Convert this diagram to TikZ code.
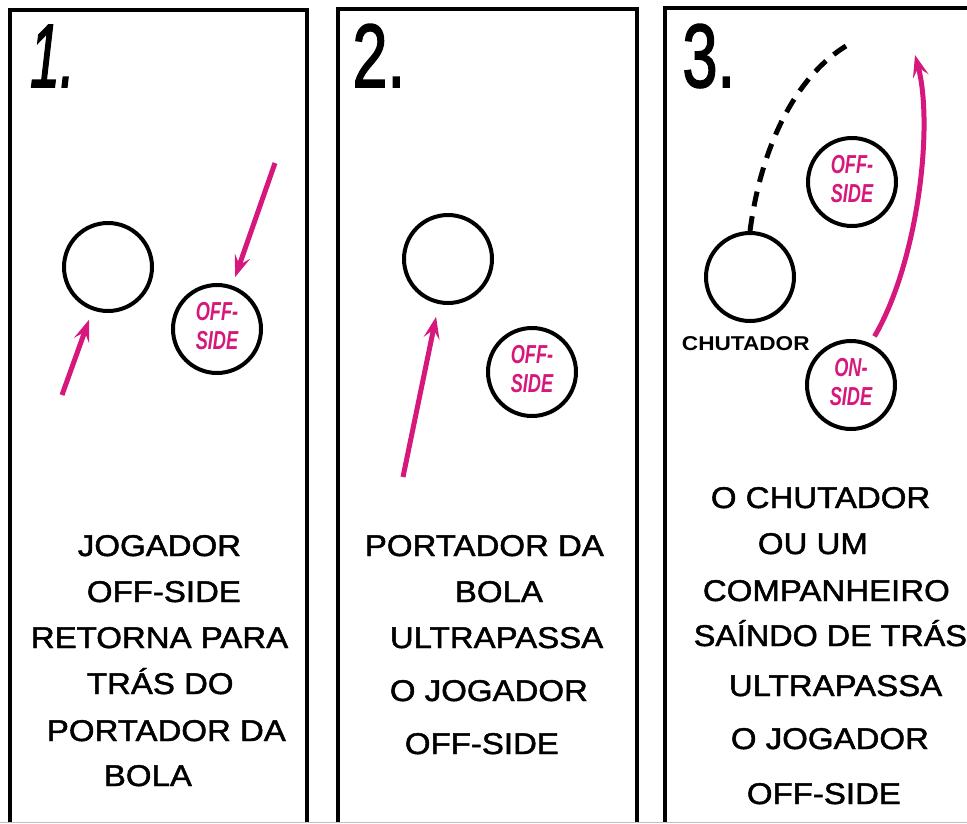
\documentclass[tikz,border=0pt]{standalone}
\usepackage{fontspec}
\usepackage{xcolor}
\setmainfont{Liberation Sans}
\newfontfamily\capfont{Liberation Sans}[FakeBold=1.5]
\newfontfamily\numfont{Liberation Sans}[FakeBold=2]
\usetikzlibrary{arrows.meta}

\definecolor{offpink}{RGB}{214,24,124}
\newcommand{\sidetag}[2]{\scalebox{0.7}[1]{\begin{tabular}{@{}c@{}}#1\\#2\end{tabular}}}

\begin{document}
\begin{tikzpicture}[x=1pt,y=-1pt,
        panel/.style={line width=4pt},
        player/.style={circle,draw,line width=4pt,minimum size=88pt,inner sep=0pt,
            font=\fontsize{26}{29}\selectfont\bfseries\itshape,text=offpink},
        run/.style={offpink,line width=5pt,-{Stealth[length=22pt,width=16pt,inset=9pt]}},
        lobline/.style={line width=5pt,dash pattern=on 15pt off 10pt},
        caption/.style={anchor=base west,xscale=1.1,font=\fontsize{30}{36}\selectfont\capfont},
        panelno/.style={anchor=base west,xscale=0.7,font=\fontsize{90}{90}\selectfont\numfont}]
        \useasboundingbox (0,0) rectangle (967,823);

        % frames
        \draw[panel] (10,823) |- (307,10) -- (307,823);
        \draw[panel] (338,823) |- (637,9) -- (637,823);
        \draw[panel] (665,823) |- (980,8);
        \draw[black!25,line width=1pt] (0,822) -- (967,822);

        \node[panelno,xscale=0.85,font=\fontsize{90}{90}\selectfont\numfont\itshape] (no1) at (28,87) {1.};
        \node[panelno] (no2) at (350,87) {2.};
        \node[panelno] (no3) at (680,87) {3.};

        % panel 1
        \node[player] (p1ball) at (108,267) {};
        \node[player] (p1off) at (217,329) {\sidetag{OFF-}{SIDE}};
        \coordinate (t1a) at (62,395);
        \coordinate (t1b) at (275,163);
        \draw[run,shorten >=10pt] (t1a) -- (p1ball);
        \draw[run,shorten >=9pt] (t1b) -- (p1off);

        \node[caption] (c1a) at (74,556) {JOGADOR};
        \node[caption] (c1b) at (83,602) {OFF-SIDE};
        \node[caption] (c1c) at (27,648) {RETORNA PARA};
        \node[caption] (c1d) at (83,694) {TRÁS DO};
        \node[caption] (c1e) at (43,741) {PORTADOR DA};
        \node[caption] (c1f) at (100,786) {BOLA};

        % panel 2
        \node[player] (p2ball) at (448,259) {};
        \node[player] (p2off) at (532,372) {\sidetag{OFF-}{SIDE}};
        \coordinate (t2) at (403,477);
        \draw[run,shorten >=13pt] (t2) -- (p2ball);

        \node[caption] (c2a) at (361,556) {PORTADOR DA};
        \node[caption] (c2b) at (451,602) {BOLA};
        \node[caption] (c2c) at (386,648) {ULTRAPASSA};
        \node[caption] (c2d) at (386,701) {O JOGADOR};
        \node[caption] (c2e) at (401,754) {OFF-SIDE};

        % panel 3
        \node[player] (p3kick) at (750,277) {};
        \node[player] (p3off) at (852,182) {\sidetag{OFF-}{SIDE}};
        \node[player] (p3on) at (851,385) {\sidetag{ON-}{SIDE}};
        \node[anchor=base west,xscale=1.13,font=\fontsize{20}{24}\selectfont\bfseries] (kicker) at (678,350) {CHUTADOR};
        \coordinate (lob) at (853,42);
        \coordinate (runend) at (915,55);
        \draw[lobline] (p3kick.north) .. controls (762,140) and (800,70) .. (lob);
        \draw[run,shorten <=8pt] (p3on.65) .. controls (918,262) and (934,125) .. (runend);

        \node[caption] (c3a) at (707,508) {O CHUTADOR};
        \node[caption] (c3b) at (754,554) {OU UM};
        \node[caption] (c3c) at (699,601) {COMPANHEIRO};
        \node[caption,xscale=0.98] (c3d) at (690,646) {SAÍNDO DE TRÁS};
        \node[caption] (c3e) at (725,696) {ULTRAPASSA};
        \node[caption] (c3f) at (727,749) {O JOGADOR};
        \node[caption] (c3g) at (743,804) {OFF-SIDE};
\end{tikzpicture}
\end{document}
